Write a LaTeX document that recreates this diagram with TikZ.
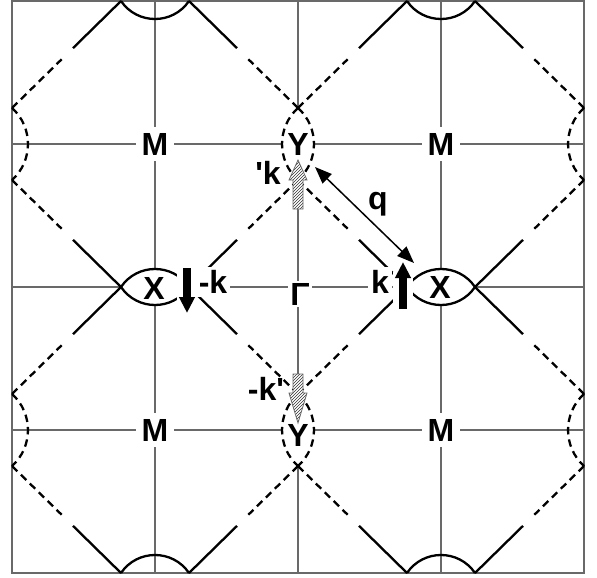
\documentclass[tikz,border=0pt]{standalone}
\usepackage{fontspec}
\setmainfont{Liberation Sans}
\usetikzlibrary{calc,arrows.meta,patterns}
\definecolor{gridgray}{RGB}{105,105,105}
\definecolor{hatchgray}{RGB}{50,50,50}
\begin{document}
\begin{tikzpicture}[x=1pt,y=-1pt,
  gridline/.style={draw=gridgray, line width=1.2pt},
  frameline/.style={draw=gridgray, line width=1.6pt},
  fs/.style={line width=2.3pt, draw=black},
  fsd/.style={fs, dash pattern=on 7.5pt off 5pt},
  lab/.style={font=\bfseries\fontsize{32}{32}\selectfont, fill=white, inner sep=3pt},
  mlab/.style={lab, inner sep=6pt},
  xylab/.style={lab, fill=none},
  karrow/.style={line width=8pt, -{Triangle[width=15pt,length=16pt]}},
  hatcharrow/.style={draw=gridgray, line width=0.8pt, pattern=north east lines, pattern color=hatchgray},
  qarrow/.style={line width=1.5pt, {Triangle[length=17pt,width=13pt]}-{Triangle[length=17pt,width=13pt]}}
  ]
\useasboundingbox (0,0) rectangle (597,578);
% grid
\foreach \v in {155,298,441} \draw[gridline] (\v,1) -- (\v,573);
\foreach \h in {144,287,430} \draw[gridline] (12,\h) -- (584,\h);
\draw[frameline] (12,1) rectangle (584,573);
% white interior lenses (X type, horizontal)
\foreach \lx/\ly in {155/287, 441/287} {
  \fill[white] (\lx-34,\ly) .. controls (\lx-17.7,\ly-24) and (\lx+17.7,\ly-24) .. (\lx+34,\ly)
     .. controls (\lx+17.7,\ly+24) and (\lx-17.7,\ly+24) .. cycle;
}
% white interior lenses (Y type, vertical)
\foreach \lx/\ly in {298/144, 298/430} {
  \fill[white] (\lx,\ly-36) .. controls (\lx+21.3,\ly-16.8) and (\lx+21.3,\ly+16.8) .. (\lx,\ly+36)
     .. controls (\lx-21.3,\ly+16.8) and (\lx-21.3,\ly-16.8) .. cycle;
}
% Fermi surface contours around M points
\foreach \mx/\my in {155/144, 441/144, 155/430, 441/430} {
  \begin{scope}[shift={(\mx,\my)}]
    \coordinate (Lt) at (-34,-143); \coordinate (Rt) at (34,-143);
    \coordinate (Lb) at (-34,143);  \coordinate (Rb) at (34,143);
    \coordinate (Tl) at (-143,-36); \coordinate (Bl) at (-143,36);
    \coordinate (Tr) at (143,-36);  \coordinate (Br) at (143,36);
    % X-side arcs (solid)
    \draw[fs] (Lt) .. controls (-17.7,-119) and (17.7,-119) .. (Rt);
    \draw[fs] (Lb) .. controls (-17.7,119) and (17.7,119) .. (Rb);
    % Y-side arcs (dashed)
    \draw[fsd] (Tl) .. controls (-121.7,-16.8) and (-121.7,16.8) .. (Bl);
    \draw[fsd] (Tr) .. controls (121.7,-16.8) and (121.7,16.8) .. (Br);
    % straight edges: solid near X, dashed near Y
    \draw[fs] (Lt) -- ($(Lt)!0.44!(Tl)$);
    \draw[fsd] (Tl) -- ($(Tl)!0.455!(Lt)$);
    \draw[fs] (Rt) -- ($(Rt)!0.44!(Tr)$);
    \draw[fsd] (Tr) -- ($(Tr)!0.455!(Rt)$);
    \draw[fs] (Lb) -- ($(Lb)!0.44!(Bl)$);
    \draw[fsd] (Bl) -- ($(Bl)!0.455!(Lb)$);
    \draw[fs] (Rb) -- ($(Rb)!0.44!(Br)$);
    \draw[fsd] (Br) -- ($(Br)!0.455!(Rb)$);
  \end{scope}
}
% black arrows k and -k
\coordinate (mka) at (187,268); \coordinate (mkb) at (187,313);
\coordinate (ka) at (403,309);  \coordinate (kb) at (403,262);
\fill[white] (177,262) rectangle (197,300);
\fill[white] (393,272) rectangle (413,313);
\draw[karrow] (mka) -- (mkb);
\draw[karrow] (ka) -- (kb);
% hatched arrows k' and -k'
\fill[white] (293,209) -- (293,180) -- (289,180) -- (298,160) -- (307,180) -- (303,180) -- (303,209) -- cycle;
\path[hatcharrow] (293,209) -- (293,180) -- (289,180) -- (298,160) -- (307,180) -- (303,180) -- (303,209) -- cycle;
\fill[white] (293,374) -- (293,393) -- (289,393) -- (298,423) -- (307,393) -- (303,393) -- (303,374) -- cycle;
\path[hatcharrow] (293,374) -- (293,393) -- (289,393) -- (298,423) -- (307,393) -- (303,393) -- (303,374) -- cycle;
% q arrow
\coordinate (qa) at (315,167); \coordinate (qb) at (414,263);
\draw[qarrow] (qa) -- (qb);
% labels
\node[mlab] (M1) at (155,144) {M};
\node[mlab] (M2) at (441,144) {M};
\node[mlab] (M3) at (155,430) {M};
\node[mlab] (M4) at (441,430) {M};
\node[xylab] (X1) at (154,288) {X};
\node[xylab] (X2) at (440,287) {X};
\node[xylab] (Y1) at (298,144) {Y};
\node[xylab] (Y2) at (298,435) {Y};
\node[lab, inner sep=2pt] (G) at (300,294) {Γ};
\node[lab] (lmk) at (213,282) {-k};
\node[lab] (lk) at (380,282) {k};
\node[lab, fill=none] (lkp) at (268,173) {\textquotesingle k};
\node[lab, fill=none] (lmkp) at (266,389) {-k\textquotesingle};
\node[lab, fill=none] (lq) at (378,204) {q};
\end{tikzpicture}
\end{document}
